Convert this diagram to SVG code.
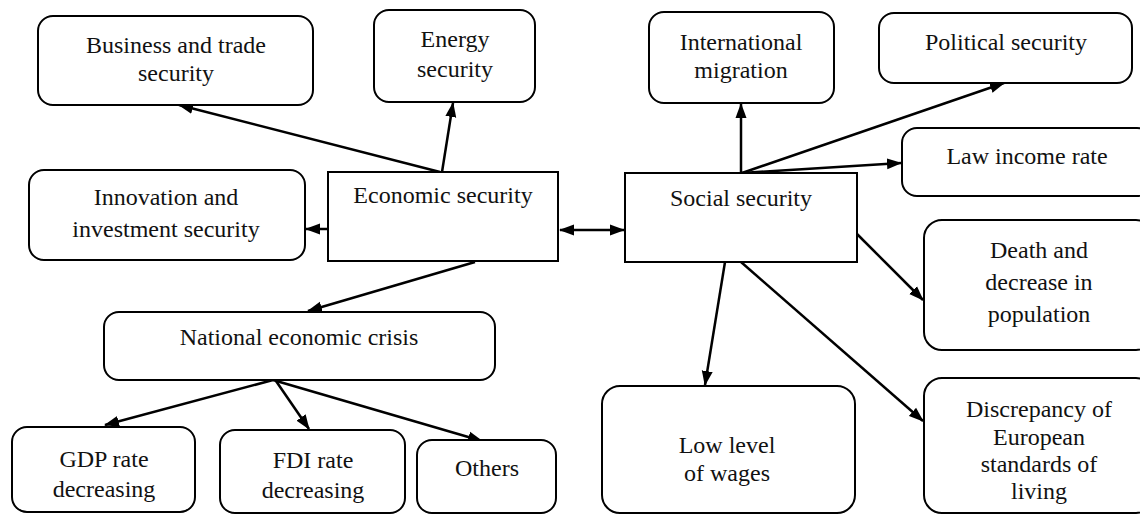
<svg xmlns="http://www.w3.org/2000/svg" width="1140" height="515" viewBox="0 0 1140 515">
<defs>
<marker id="ah" markerWidth="15" markerHeight="12" refX="14" refY="6" orient="auto" markerUnits="userSpaceOnUse">
<path d="M0,0.5 L15,6 L0,11.5 Z" fill="#000"/>
</marker>
<marker id="ahs" markerWidth="15" markerHeight="12" refX="1" refY="6" orient="auto" markerUnits="userSpaceOnUse">
<path d="M15,0.5 L0,6 L15,11.5 Z" fill="#000"/>
</marker>
<style>
.b{fill:#fff;stroke:#000;stroke-width:2}
.t{font-family:'Liberation Serif','Times New Roman',serif;font-size:24px;fill:#111;text-anchor:middle}
.c line{stroke:#000;stroke-width:2.5;marker-end:url(#ah)}
</style>
</defs>
<rect width="1140" height="515" fill="#fff"/>
<g id="connectors" class="c">
<line x1="440" y1="172" x2="179" y2="105"/>
<line x1="442" y1="172" x2="453" y2="103"/>
<line x1="328" y1="229" x2="306" y2="229"/>
<line x1="560" y1="230" x2="624" y2="230" style="marker-start:url(#ahs)"/>
<line x1="475" y1="262" x2="308" y2="311"/>
<line x1="273" y1="380" x2="105" y2="425"/>
<line x1="276" y1="381" x2="309" y2="429"/>
<line x1="273" y1="380" x2="482" y2="441"/>
<line x1="741" y1="173" x2="741" y2="104"/>
<line x1="742" y1="173" x2="1004" y2="83"/>
<line x1="742" y1="173" x2="901" y2="163"/>
<line x1="855" y1="232" x2="923" y2="300"/>
<line x1="725" y1="262" x2="705" y2="385"/>
<line x1="741" y1="262" x2="923" y2="421"/>
</g>
<g id="n-business"><rect class="b" x="38" y="16" width="275" height="89" rx="15"/><text class="t" x="176" y="53">Business and trade</text><text class="t" x="176" y="81">security</text></g>
<g id="n-energy"><rect class="b" x="374" y="10" width="161" height="92" rx="15"/><text class="t" x="455" y="47">Energy</text><text class="t" x="455" y="77">security</text></g>
<g id="n-innovation"><rect class="b" x="29" y="170" width="276" height="90" rx="15"/><text class="t" x="166" y="205">Innovation and</text><text class="t" x="166" y="237">investment security</text></g>
<g id="n-economic"><rect class="b" x="328" y="172" width="230" height="89"/><text class="t" x="443" y="203">Economic security</text></g>
<g id="n-national"><rect class="b" x="104" y="312" width="391" height="68" rx="15"/><text class="t" x="299" y="345">National economic crisis</text></g>
<g id="n-gdp"><rect class="b" x="12" y="427" width="183" height="85" rx="15"/><text class="t" x="104" y="467">GDP rate</text><text class="t" x="104" y="497">decreasing</text></g>
<g id="n-fdi"><rect class="b" x="220" y="430" width="185" height="83" rx="15"/><text class="t" x="313" y="468">FDI rate</text><text class="t" x="313" y="498">decreasing</text></g>
<g id="n-others"><rect class="b" x="417" y="440" width="139" height="73" rx="15"/><text class="t" x="487" y="476">Others</text></g>
<g id="n-migration"><rect class="b" x="649" y="12" width="185" height="91" rx="15"/><text class="t" x="741" y="50">International</text><text class="t" x="741" y="78">migration</text></g>
<g id="n-political"><rect class="b" x="879" y="13" width="253" height="70" rx="15"/><text class="t" x="1006" y="50">Political security</text></g>
<g id="n-law"><rect class="b" x="902" y="128" width="250" height="68" rx="15"/><text class="t" x="1027" y="164">Law income rate</text></g>
<g id="n-social"><rect class="b" x="625" y="173" width="232" height="89"/><text class="t" x="741" y="206">Social security</text></g>
<g id="n-death"><rect class="b" x="924" y="220" width="230" height="130" rx="18"/><text class="t" x="1039" y="258">Death and</text><text class="t" x="1039" y="290">decrease in</text><text class="t" x="1039" y="322">population</text></g>
<g id="n-wages"><rect class="b" x="602" y="386" width="253" height="127" rx="18"/><text class="t" x="727" y="453">Low level</text><text class="t" x="727" y="481">of wages</text></g>
<g id="n-discrepancy"><rect class="b" x="924" y="378" width="230" height="135" rx="18"/><text class="t" x="1039" y="417">Discrepancy of</text><text class="t" x="1039" y="445">European</text><text class="t" x="1039" y="472">standards of</text><text class="t" x="1039" y="499">living</text></g>
</svg>
